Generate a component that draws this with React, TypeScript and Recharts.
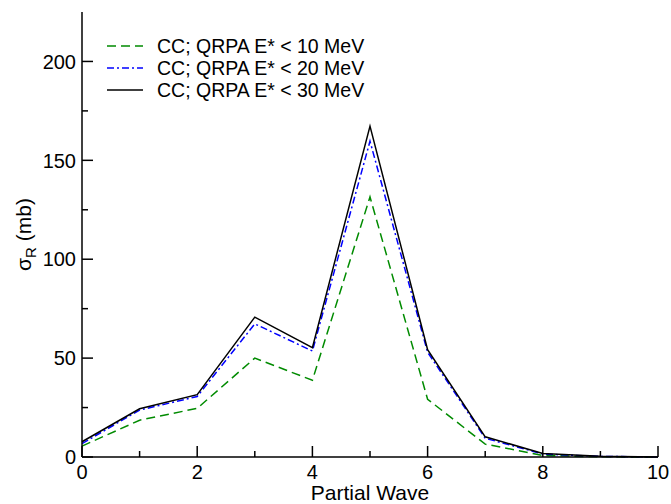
import { LineChart, Line, XAxis, YAxis, Legend } from 'recharts';

// partial wave index
const waves = [0, 1, 2, 3, 4, 5, 6, 7, 8, 9, 10];
// sigma_R (mb) for the three QRPA cut-offs
const cc10 = [5.5, 18.6, 24.6, 50.0, 38.8, 131.5, 29.2, 6.5, 0.8, 0.1, 0];
const cc20 = [6.8, 23.7, 30.6, 67.3, 53.6, 159.7, 53.0, 9.5, 1.5, 0.3, 0];
const cc30 = [7.7, 24.4, 31.5, 70.7, 55.3, 167.3, 54.3, 10.2, 1.8, 0.4, 0];

const xTicks = [0, 1, 2, 3, 4, 5, 6, 7, 8, 9, 10];
const yTicks = [0, 25, 50, 75, 100, 125, 150, 175, 200];

const series = [
    { key: 'cc10', name: 'CC; QRPA E* < 10 MeV', color: '#008b00', dash: '9 5' },
    { key: 'cc20', name: 'CC; QRPA E* < 20 MeV', color: '#0000ff', dash: '7 3 2 3' },
    { key: 'cc30', name: 'CC; QRPA E* < 30 MeV', color: '#000000', dash: undefined },
];

const data = waves.map((w, i) => ({ wave: w, cc10: cc10[i], cc20: cc20[i], cc30: cc30[i] }));

const FONT = '"Liberation Sans", Arial, Helvetica, sans-serif';
const MAJOR = 11;
const MINOR = 6;

function BottomTick(props: any) {
    const { x, y, payload } = props;
    const major = payload.value % 2 === 0;
    return (
        <g>
            <line x1={x} y1={y} x2={x} y2={y - (major ? MAJOR : MINOR)} stroke="#000" strokeWidth={1.5} />
            {major && (
                <text x={x} y={y + 22} textAnchor="middle" fontSize={20} fontFamily={FONT} fill="#000">
                    {payload.value}
                </text>
            )}
        </g>
    );
}

function TopTick(props: any) {
    const { x, y, payload } = props;
    const major = payload.value % 2 === 0;
    return <line x1={x} y1={y} x2={x} y2={y + (major ? MAJOR : MINOR)} stroke="#000" strokeWidth={1.5} />;
}

function LeftTick(props: any) {
    const { x, y, payload } = props;
    const major = payload.value % 50 === 0;
    return (
        <g>
            <line x1={x} y1={y} x2={x + (major ? MAJOR : MINOR)} y2={y} stroke="#000" strokeWidth={1.5} />
            {major && (
                <text x={x - 6} y={y} dy="0.36em" textAnchor="end" fontSize={20} fontFamily={FONT} fill="#000">
                    {payload.value}
                </text>
            )}
        </g>
    );
}

function RightTick(props: any) {
    const { x, y, payload } = props;
    const major = payload.value % 50 === 0;
    return <line x1={x} y1={y} x2={x - (major ? MAJOR : MINOR)} y2={y} stroke="#000" strokeWidth={1.5} />;
}

function YLabel(props: any) {
    const vb = props.viewBox;
    const cx = vb.x + 31;
    const cy = vb.y + vb.height / 2;
    return (
        <text x={cx} y={cy} transform={`rotate(-90, ${cx}, ${cy})`} textAnchor="middle" fontSize={21} fontFamily={FONT} fill="#000">
            σ<tspan dy={5} fontSize={15}>R</tspan>
            <tspan dy={-5}> (mb)</tspan>
        </text>
    );
}

function XLabel(props: any) {
    const vb = props.viewBox;
    return (
        <text x={vb.x + vb.width / 2} y={vb.y + 43} textAnchor="middle" fontSize={21} fontFamily={FONT} fill="#000">
            Partial Wave
        </text>
    );
}

function LegendBox() {
    return (
        <svg width={300} height={72} style={{ display: 'block' }}>
            {series.map((s, i) => (
                <g key={s.key}>
                    <line x1={7} x2={43} y1={11 + i * 22} y2={11 + i * 22} stroke={s.color} strokeWidth={1.5} strokeDasharray={s.dash} />
                    <text x={57} y={11 + i * 22} dy="0.36em" fontSize={19.5} fontFamily={FONT} fill="#000">
                        {s.name}
                    </text>
                </g>
            ))}
        </svg>
    );
}

export default function App() {
    return (
        <div style={{ position: 'absolute', left: 0, top: 0, background: '#fff' }}>
            <LineChart width={671} height={504} data={data} margin={{ top: 12, right: 13, bottom: 0, left: 0 }}>
                <XAxis
                    dataKey="wave"
                    type="number"
                    domain={[0, 10]}
                    ticks={xTicks}
                    interval={0}
                    height={47}
                    tickSize={0}
                    tickMargin={0}
                    tickLine={false}
                    axisLine={{ stroke: '#000', strokeWidth: 1.5 }}
                    tick={<BottomTick />}
                    label={<XLabel />}
                />
                <XAxis
                    xAxisId="top"
                    orientation="top"
                    dataKey="wave"
                    type="number"
                    domain={[0, 10]}
                    ticks={xTicks}
                    interval={0}
                    height={0}
                    tickSize={0}
                    tickMargin={0}
                    tickLine={false}
                    axisLine={{ stroke: '#000', strokeWidth: 1.5 }}
                    tick={<TopTick />}
                />
                <YAxis
                    type="number"
                    domain={[0, 225]}
                    ticks={yTicks}
                    interval={0}
                    width={82}
                    tickSize={0}
                    tickMargin={0}
                    tickLine={false}
                    axisLine={{ stroke: '#000', strokeWidth: 1.5 }}
                    tick={<LeftTick />}
                    label={<YLabel />}
                />
                <YAxis
                    yAxisId="right"
                    orientation="right"
                    type="number"
                    domain={[0, 225]}
                    ticks={yTicks}
                    interval={0}
                    width={0}
                    tickSize={0}
                    tickMargin={0}
                    tickLine={false}
                    axisLine={{ stroke: '#000', strokeWidth: 1.5 }}
                    tick={<RightTick />}
                />
                <Legend
                    layout="vertical"
                    align="center"
                    verticalAlign="middle"
                    content={<LegendBox />}
                    wrapperStyle={{ left: 100, top: 35, width: 300 }}
                />
                {series.map((s) => (
                    <Line
                        key={s.key}
                        type="linear"
                        dataKey={s.key}
                        name={s.name}
                        stroke={s.color}
                        strokeWidth={1.5}
                        strokeDasharray={s.dash}
                        dot={false}
                        activeDot={false}
                        isAnimationActive={false}
                    />
                ))}
            </LineChart>
        </div>
    );
}
